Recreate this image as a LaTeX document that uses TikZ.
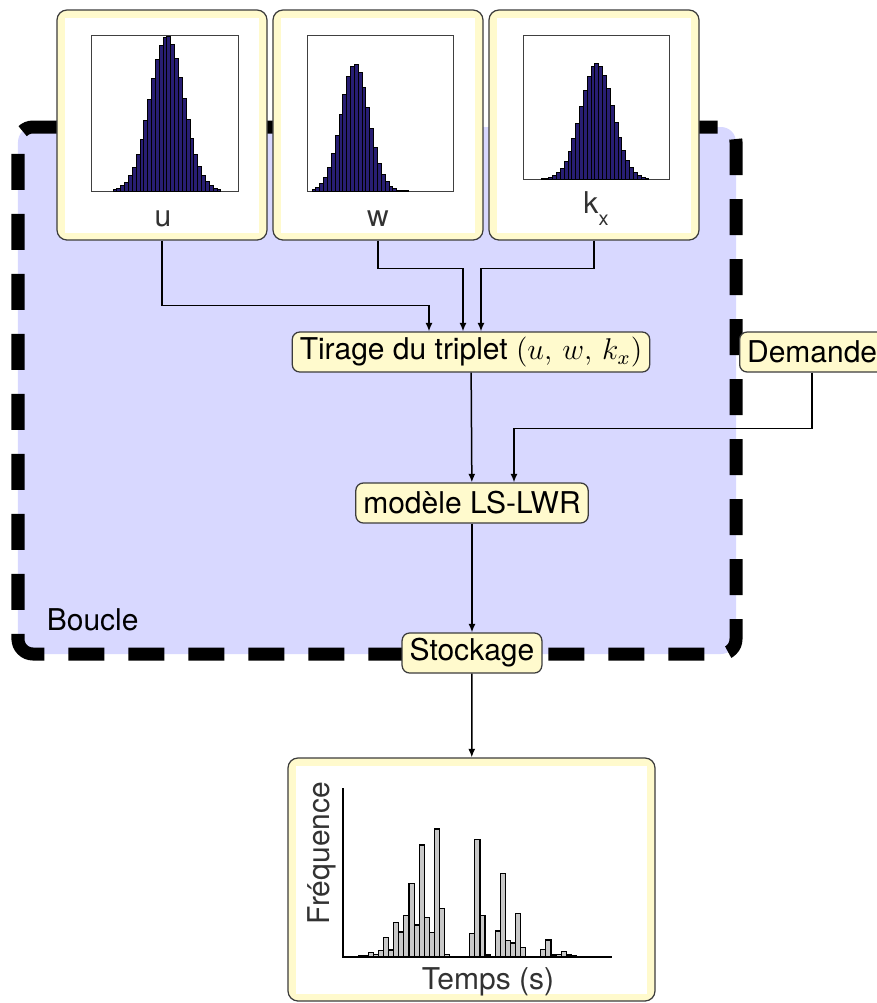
\documentclass[tikz,border=0pt]{standalone}
\usepackage{fontspec}
\setmainfont{TeX Gyre Heros}
\usetikzlibrary{arrows.meta,calc}

\definecolor{loopfill}{RGB}{216,216,255}
\definecolor{boxfill}{RGB}{255,250,205}
\definecolor{boxline}{RGB}{60,60,60}
\definecolor{labelgray}{RGB}{50,50,50}
\definecolor{histblue}{RGB}{40,30,115}
\definecolor{histgray}{RGB}{200,200,200}

\tikzset{
  etape/.style={draw=boxline, fill=boxfill, rounded corners=3pt, line width=0.5pt,
    minimum height=16pt, inner xsep=3pt, inner ysep=0pt},
  panel/.style={draw=boxline, fill=boxfill, rounded corners=4pt, line width=0.5pt},
  fleche/.style={-{Latex[length=3.4pt,width=2.8pt]}, line width=0.6pt},
  boucle/.style={line width=5.2pt, dash pattern=on 14.4pt off 9.6pt, rounded corners=6pt},
  cadre/.style={draw=darkgray, line width=0.4pt},
  barre/.style={fill=histblue, draw=black, line width=0.35pt},
  barregris/.style={fill=histgray, draw=black, line width=0.45pt},
  etiquette/.style={text=labelgray}
}

% bell shaped histogram: start x, last bar, mean, sigma, height, baseline
\newcommand{\cloche}[6]{%
  \foreach \i in {0,...,#2}{
    \pgfmathsetmacro\xa{#1+3.85*\i}
    \pgfmathsetmacro\hb{#5*exp(-((\xa+1.925-#3)^2)/(2*#4*#4))}
    \draw[barre] (\xa,#6) rectangle ++(3.85,-\hb);
  }}

\begin{document}
\begin{tikzpicture}[x=0.4pt,y=-0.4pt,font=\fontsize{12}{14}\selectfont]
    \useasboundingbox (0,0) rectangle (877,1003);
    % loop
    \fill[loopfill, rounded corners=6pt] (18,127) rectangle (736,654);
    \draw[boucle] (18,625) -- (18,654) -- (736,654) -- (736,127) -- (18,127) -- cycle;
    \node[anchor=west] (boucle) at (38,620) {Boucle};
    % parameter boxes
    \foreach \nom/\cx in {ubox/162, wbox/378, kbox/594} {
        \node[panel, minimum width=84pt, minimum height=92pt] (\nom) at (\cx,125) {};
        \fill[white] ($(\nom.south west)+(9,-8)$) rectangle ($(\nom.north east)+(-9,9)$);
    }
    \draw[cadre] (91,35) rectangle (238,191);
    \draw[cadre] (307,35) rectangle (453,191);
    \draw[cadre] (523,35) rectangle (669,179);
    \cloche{113}{27}{167}{17}{155}{191}
    \cloche{312}{24}{355}{14}{127}{191}
    \cloche{541}{27}{597}{16}{116}{179}
    \node[etiquette] (ulabel) at (163,219) {u};
    \node[etiquette] (wlabel) at (378,219) {w};
    \node[etiquette, anchor=base west, inner sep=0pt] (klabel) at (583,213)
        {k\raisebox{-4.8pt}{\fontsize{8}{9}\selectfont x}};
    % steps
    \node[etape] (tirage) at (471,352) {Tirage du triplet $(u,\,w,\,k_x)$};
    \node[etape] (modele) at (472,503) {modèle LS-LWR};
    \node[etape] (stockage) at (472,653) {Stockage};
    \node[etape, anchor=west] (demande) at (739,352) {Demande};
    % result
    \node[panel, minimum width=146.8pt, minimum height=97.2pt] (resultat) at (471.5,879.5) {};
    \fill[white] ($(resultat.south west)+(9,-8)$) rectangle ($(resultat.north east)+(-9,9)$);
    \foreach \i/\h in {0/1, 1/1.3, 2/4.7, 3/2.7, 4/6.7, 5/19.3, 6/7, 7/34.3, 8/25,
        9/41.3, 10/73.3, 11/32, 12/112, 13/39.3, 14/24.3, 15/128, 16/48.7, 17/2.7,
        22/23.3, 23/117.7, 24/41.3, 25/2, 26/0.7, 27/26, 28/83.7, 29/16.7, 30/14,
        31/43.3, 32/9.3, 36/7.7, 37/17, 38/2, 39/2.7, 40/5.7, 41/2, 42/1.3, 43/0.7}
        \draw[barregris] ({358.3+5.07*\i},957) rectangle ++(5.07,-\h);
    \draw[line width=0.6pt] (343,788) -- (343,957) -- (612,957);
    \node[etiquette, rotate=90] (frequence) at (322,853) {Fréquence};
    \node[etiquette] (temps) at (488,982) {Temps (s)};
    % connectors
    \draw[fleche] (ubox.south) -- ++(0,65) -| ($(tirage.north)+(-42,0)$);
    \draw[fleche] (wbox.south) -- ++(0,28) -| ($(tirage.north)+(-8,0)$);
    \draw[fleche] (kbox.south) -- ++(0,28) -| ($(tirage.north)+(10,0)$);
    \draw[fleche] (tirage) -- (modele);
    \draw[fleche] (demande.south) -- ++(0,56) -| ($(modele.north)+(42,0)$);
    \draw[fleche] (modele) -- (stockage);
    \draw[fleche] (stockage) -- (resultat);
\end{tikzpicture}
\end{document}
